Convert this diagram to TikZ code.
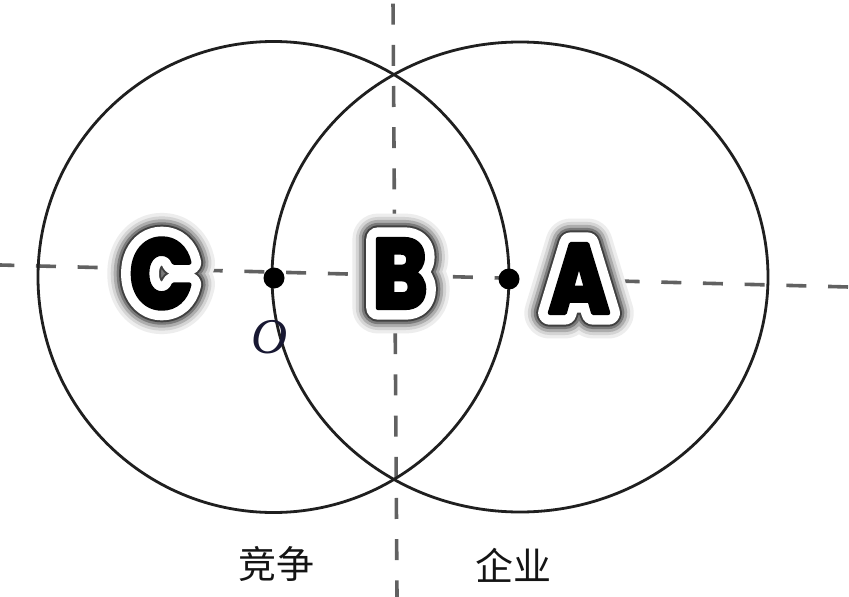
\documentclass[tikz,border=0pt]{standalone}
\usepackage{fontspec}
\setmainfont{Liberation Serif}
\newfontfamily\cjk{Noto Sans CJK SC}
\newfontfamily\fK[UprightFont=* Bold, FakeStretch=0.84, FakeBold=4.5]{Poppins}
\newfontfamily\fW[UprightFont=* Bold, FakeStretch=0.84, FakeBold=24]{Poppins}
\newfontfamily\fGa[UprightFont=* Bold, FakeStretch=0.84, FakeBold=28]{Poppins}
\newfontfamily\fGb[UprightFont=* Bold, FakeStretch=0.84, FakeBold=33]{Poppins}
\newfontfamily\fGc[UprightFont=* Bold, FakeStretch=0.84, FakeBold=39]{Poppins}
\newfontfamily\fGd[UprightFont=* Bold, FakeStretch=0.84, FakeBold=45]{Poppins}
\newfontfamily\fGe[UprightFont=* Bold, FakeStretch=0.84, FakeBold=52]{Poppins}
\tikzset{
  lett/.style={inner sep=0pt},
  circ/.style={draw=black!88, line width=2.8pt},
  axis/.style={draw=black!62, line width=3.6pt},
  cjklabel/.style={inner sep=0pt, font=\cjk\fontsize{38}{38}\selectfont, text=black!92},
  pt/.style={circle, fill=black, inner sep=0pt, minimum size=21pt},
}
\newcommand\glowletter[3]{%
  \node[lett,text=black!7]  at (#1) {\fGe\fontsize{98}{98}\selectfont #3};
  \node[lett,text=black!17] at (#1) {\fGd\fontsize{98}{98}\selectfont #3};
  \node[lett,text=black!32] at (#1) {\fGc\fontsize{98}{98}\selectfont #3};
  \node[lett,text=black!52] at (#1) {\fGb\fontsize{98}{98}\selectfont #3};
  \node[lett,text=black!75] at (#1) {\fGa\fontsize{98}{98}\selectfont #3};
  \node[lett,text=white]    at (#1) {\fW\fontsize{98}{98}\selectfont #3};
  \node[lett,text=black] (#2) at (#1) {\fK\fontsize{98}{98}\selectfont #3};}
\begin{document}
\begin{tikzpicture}[x=1pt,y=-1pt,line join=round]
\fill[white] (0,0) rectangle (849,597);
\useasboundingbox (0,0) rectangle (849,597);
% axes
\coordinate (hL) at (0,265);
\coordinate (hR) at (849,287);
\coordinate (vT) at (393,0);
\coordinate (vB) at (397,597);
\draw[axis, dash pattern=on 20pt off 21.7pt, dash phase=5.7pt] (hL) -- (hR);
\draw[axis, dash pattern=on 21pt off 20.2pt, dash phase=37.6pt] (vT) -- (vB);
% circles
\coordinate (c1) at (273.5,277);
\coordinate (c2) at (520,277);
\draw[circ] (c1) circle[radius=235.5];
\draw[circ] (c2) ellipse[x radius=248, y radius=235];
% points
\node[pt] (o1) at (274,278) {};
\node[pt] (o2) at (509,279) {};
% letters
\coordinate (pC) at (161.5,273.5);
\coordinate (pB) at (400,273.5);
\coordinate (pA) at (579,278.5);
\glowletter{pC}{C}{C}
\glowletter{pB}{B}{B}
\glowletter{pA}{A}{A}
% O label
\node[inner sep=0pt, font=\itshape\fontsize{50}{50}\selectfont, text={rgb,255:red,24;green,24;blue,50}] (O) at (270,337) {O};
% bottom labels
\node[cjklabel] (t1) at (276,564) {竞争};
\node[cjklabel] (t2) at (513,565) {企业};
\end{tikzpicture}
\end{document}
